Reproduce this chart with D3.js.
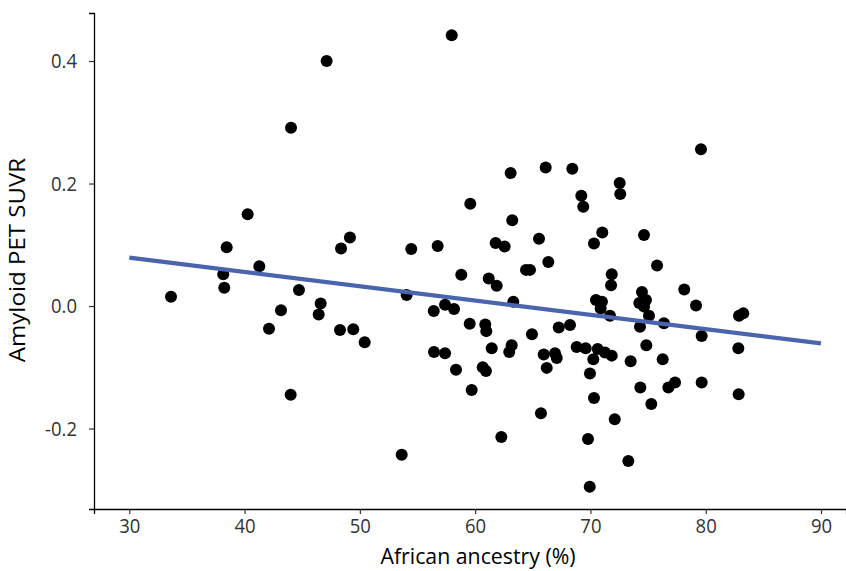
<!DOCTYPE html>
<html>
<head>
<meta charset="utf-8">
<script src="https://cdn.jsdelivr.net/npm/d3@7"></script>
<style>
  html, body { margin: 0; padding: 0; background: #fff; }
  svg { display: block; font-family: "Open Sans", "Noto Sans", sans-serif; }
</style>
</head>
<body>
<svg id="chart" width="846" height="571"></svg>
<script>
// Data
const ancestry = [33.62,38.15,38.24,38.45,40.27,41.28,42.12,43.16,44.00,44.03,44.72,46.43,46.60,47.12,48.28,48.37,49.14,49.43,50.42,53.63,
  54.06,54.46,56.41,56.43,56.75,57.39,57.39,57.97,58.17,58.34,58.80,59.53,59.58,59.70,60.66,60.88,60.94,60.97,61.18,61.44,
  61.78,61.87,62.27,62.56,62.96,63.08,63.17,63.22,63.31,64.41,64.76,64.93,65.54,65.71,65.95,66.12,66.21,66.35,66.93,67.08,
  67.25,68.23,68.43,68.81,69.21,69.38,69.59,69.79,69.94,69.96,70.25,70.31,70.31,70.48,70.63,70.89,71.00,71.03,71.26,71.70,
  71.85,71.79,71.85,72.11,72.54,72.59,73.29,73.49,74.24,74.30,74.33,74.47,74.65,74.65,74.82,74.85,75.08,75.28,75.78,76.27,
  76.38,76.76,77.34,78.14,79.16,79.59,79.65,79.65,82.83,82.86,82.89,83.26];
const suvr = [0.015,0.052,0.030,0.096,0.150,0.065,-0.037,-0.007,-0.145,0.291,0.026,-0.014,0.004,0.400,-0.039,0.094,0.112,-0.038,-0.059,-0.243,
  0.018,0.093,-0.008,-0.075,0.098,0.002,-0.077,0.442,-0.005,-0.104,0.051,-0.029,0.167,-0.137,-0.100,-0.030,-0.106,-0.041,0.045,-0.069,
  0.103,0.033,-0.214,0.097,-0.075,0.217,-0.064,0.140,0.007,0.059,0.059,-0.046,0.110,-0.175,-0.079,0.226,-0.101,0.072,-0.077,-0.085,
  -0.035,-0.031,0.224,-0.067,0.180,0.162,-0.069,-0.217,-0.295,-0.110,-0.087,0.102,-0.150,0.010,-0.070,-0.004,0.007,0.120,-0.076,-0.016,
  0.052,0.034,-0.081,-0.185,0.201,0.183,-0.253,-0.090,0.005,-0.034,-0.133,0.023,0.116,-0.001,0.010,-0.064,-0.016,-0.160,0.066,-0.087,
  -0.028,-0.133,-0.125,0.027,0.001,0.256,-0.049,-0.125,-0.069,-0.144,-0.016,-0.012];
const fitX = [30, 90];
const fitY = [0.0789, -0.0609];
const xTicks = [30, 40, 50, 60, 70, 80, 90];
const yTicks = [-0.2, 0.0, 0.2, 0.4];
const xTitle = "African ancestry (%)";
const yTitle = "Amyloid PET SUVR";

const svg = d3.select("#chart");
const pLeft = 94, pRight = 846, pTop = 13, pBottom = 509;
const stretch = 1.12;   // text in the reference is slightly taller than wide
const xStretch = 1.05;

const x = d3.scaleLinear().domain([26.94, 92.17]).range([pLeft, pRight]);
const y = d3.scaleLinear().domain([-0.3314, 0.4784]).range([pBottom, pTop]);

// points
svg.append("g").selectAll("circle")
  .data(ancestry.map((a, i) => [a, suvr[i]]))
  .join("circle")
  .attr("cx", d => x(d[0]))
  .attr("cy", d => y(d[1]))
  .attr("r", 6)
  .attr("fill", "#000");

// regression line
svg.append("line")
  .attr("x1", x(fitX[0])).attr("y1", y(fitY[0]))
  .attr("x2", x(fitX[1])).attr("y2", y(fitY[1]))
  .attr("stroke", "#4a64ad")
  .attr("stroke-width", 4.2);

// axes
const xAxis = svg.append("g")
  .attr("transform", `translate(0,${pBottom})`)
  .call(d3.axisBottom(x).tickValues(xTicks).tickFormat(d3.format("d")).tickSizeOuter(0).tickSize(5).tickPadding(5));
const yAxis = svg.append("g")
  .attr("transform", `translate(${pLeft},0)`)
  .call(d3.axisLeft(y).tickValues(yTicks).tickFormat(d => d.toFixed(1)).tickSizeOuter(0).tickSize(5).tickPadding(12));

[xAxis, yAxis].forEach(g => {
  g.select(".domain").attr("stroke", "#000").attr("stroke-width", 1.3);
  g.selectAll(".tick line").attr("stroke", "#333").attr("stroke-width", 1.2);
  g.selectAll(".tick text").attr("fill", "#333").attr("font-size", 18.5)
    .attr("font-family", "'Open Sans', sans-serif");
});
xAxis.selectAll(".tick text").attr("transform", `scale(1,${xStretch})`);
yAxis.selectAll(".tick text").attr("transform", `scale(1,${stretch})`);

svg.append("text")
  .attr("transform", `translate(478,564) scale(1,${xStretch})`)
  .attr("text-anchor", "middle")
  .attr("font-size", 21.3)
  .attr("fill", "#000")
  .text(xTitle);

svg.append("text")
  .attr("transform", `translate(25,${(pTop + pBottom) / 2 - 1}) rotate(-90) scale(${stretch},1)`)
  .attr("text-anchor", "middle")
  .attr("font-size", 21.5)
  .attr("fill", "#000")
  .text(yTitle);
</script>
</body>
</html>
